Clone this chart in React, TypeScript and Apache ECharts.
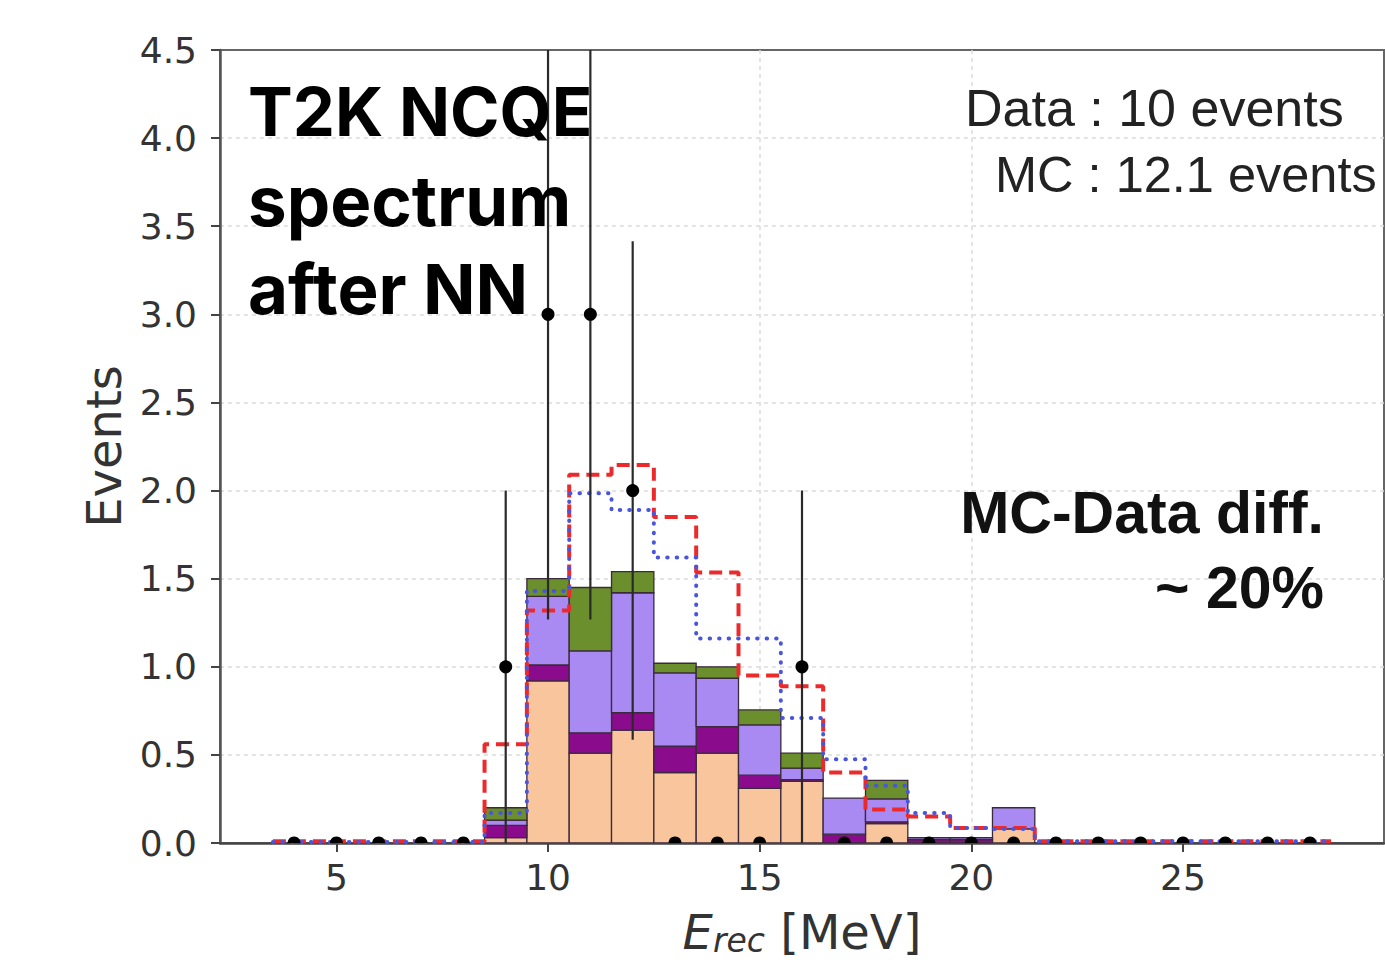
import React, { useEffect, useRef } from "react";
import * as echarts from "echarts";

// Bin centres (MeV), 1 MeV wide bins
const binCenters = [4, 5, 6, 7, 8, 9, 10, 11, 12, 13, 14, 15, 16, 17, 18, 19, 20, 21, 22, 23, 24, 25, 26, 27, 28];

// Stacked MC components (bottom -> top)
const layerPeach = [0, 0, 0, 0, 0, 0.03, 0.92, 0.51, 0.64, 0.4, 0.51, 0.31, 0.35, 0, 0.11, 0, 0, 0.08, 0, 0, 0, 0, 0, 0, 0];
const layerPurple = [0, 0, 0, 0, 0, 0.07, 0.09, 0.115, 0.1, 0.15, 0.15, 0.075, 0.01, 0.05, 0.01, 0.02, 0.02, 0, 0, 0, 0, 0, 0, 0, 0];
const layerLavender = [0, 0, 0, 0, 0, 0.03, 0.39, 0.465, 0.68, 0.415, 0.275, 0.285, 0.065, 0.205, 0.13, 0.01, 0.01, 0.12, 0, 0, 0, 0, 0, 0, 0];
const layerGreen = [0, 0, 0, 0, 0, 0.07, 0.1, 0.36, 0.12, 0.055, 0.065, 0.085, 0.085, 0, 0.105, 0, 0, 0, 0, 0, 0, 0, 0, 0, 0];

// Step-line predictions
const redDashed = [0.01, 0.01, 0.01, 0.01, 0.01, 0.56, 1.32, 2.09, 2.145, 1.85, 1.535, 0.95, 0.89, 0.4, 0.19, 0.15, 0.085, 0.085, 0.01, 0.01, 0.01, 0.01, 0.01, 0.01, 0.01];
const blueDotted = [0.005, 0.005, 0.005, 0.005, 0.005, 0.17, 1.43, 1.985, 1.89, 1.62, 1.16, 1.16, 0.71, 0.475, 0.325, 0.17, 0.085, 0.08, 0.01, 0.01, 0.01, 0.01, 0.01, 0.01, 0.01];

// Observed data
const dataCounts = [0, 0, 0, 0, 0, 1, 3, 3, 2, 0, 0, 0, 1, 0, 0, 0, 0, 0, 0, 0, 0, 0, 0, 0, 0];

const xTicks = [5, 10, 15, 20, 25];
const yTickLabels = ["0.0", "0.5", "1.0", "1.5", "2.0", "2.5", "3.0", "3.5", "4.0", "4.5"];

const layerColors = ["#f8c59c", "#8a0c8c", "#a98af2", "#6a8f2c"];

export default function App() {
  const ref = useRef<HTMLDivElement>(null);

  useEffect(() => {
    if (!ref.current) return;
    const chart = echarts.init(ref.current, undefined, { renderer: "svg" });

    const layers = [layerPeach, layerPurple, layerLavender, layerGreen];
    const cum = binCenters.map(() => 0);
    const stackSeries = layers.map((layer, li) => {
      const d = binCenters.map((c, i) => {
        const b = cum[i];
        const t = b + layer[i];
        cum[i] = t;
        return [c, b, t];
      });
      return {
        type: "custom",
        name: "mc" + li,
        z: 2,
        clip: true,
        encode: { x: 0, y: [1, 2] },
        data: d,
        renderItem: (params: any, api: any) => {
          const c = api.value(0);
          const b = api.value(1);
          const t = api.value(2);
          if (t - b <= 0) return null;
          const p1 = api.coord([c - 0.5, t]);
          const p2 = api.coord([c + 0.5, b]);
          return {
            type: "rect",
            shape: { x: p1[0], y: p1[1], width: p2[0] - p1[0], height: p2[1] - p1[1] },
            style: { fill: layerColors[li], stroke: "#3b2a3b", lineWidth: 1.3 },
          };
        },
      };
    });

    const stepPoints = (vals: number[]) => {
      const pts: number[][] = [];
      binCenters.forEach((c, i) => {
        pts.push([c - 0.5, vals[i]]);
        pts.push([c + 0.5, vals[i]]);
      });
      return pts;
    };

    const gridSplit = { color: "#dcdcdc", type: [4, 4], width: 1.5 };

    const option: any = {
      animation: false,
      backgroundColor: "#ffffff",
      grid: {
        left: 220,
        right: 1,
        top: 50,
        bottom: 117,
        show: true,
        borderColor: "#666",
        borderWidth: 2,
        backgroundColor: "transparent",
        outerBoundsMode: "none",
      },
      xAxis: {
        type: "value",
        min: 2.25,
        max: 29.75,
        name: "{e|E}{s|rec}{n| [MeV]}",
        nameLocation: "middle",
        nameGap: 64,
        nameTextStyle: {
          rich: {
            e: { fontFamily: "DejaVu Sans", fontStyle: "italic", fontSize: 48, color: "#333", lineHeight: 50, verticalAlign: "middle" },
            s: { fontFamily: "DejaVu Sans", fontStyle: "italic", fontSize: 33, color: "#333", lineHeight: 50, verticalAlign: "bottom" },
            n: { fontFamily: "DejaVu Sans", fontSize: 48, color: "#333", lineHeight: 50, verticalAlign: "middle" },
          },
        },
        axisLine: { onZero: false, lineStyle: { color: "#444", width: 2.5 } },
        axisTick: { show: true, length: 9, customValues: xTicks, lineStyle: { color: "#444", width: 2 } },
        axisLabel: {
          customValues: xTicks,
          fontFamily: "DejaVu Sans",
          fontSize: 36,
          color: "#333",
          margin: 16,
        },
        splitLine: { show: true, showMinLine: false, showMaxLine: false, lineStyle: gridSplit },
      },
      yAxis: {
        type: "value",
        min: 0,
        max: 4.5,
        interval: 0.5,
        name: "Events",
        nameLocation: "middle",
        nameGap: 92,
        nameTextStyle: { fontFamily: "DejaVu Sans", fontSize: 48, color: "#333" },
        axisLine: { show: true, onZero: false, lineStyle: { color: "#555", width: 2.5 } },
        axisTick: { show: true, length: 9, lineStyle: { color: "#444", width: 2 } },
        axisLabel: {
          fontFamily: "DejaVu Sans",
          fontSize: 36,
          color: "#333",
          margin: 23,
          formatter: (v: number) => yTickLabels[Math.round(v / 0.5)] ?? v.toFixed(1),
        },
        splitLine: { show: true, showMinLine: false, showMaxLine: false, lineStyle: gridSplit },
      },
      series: [
        ...stackSeries,
        {
          type: "line",
          name: "red",
          z: 3,
          data: stepPoints(redDashed),
          showSymbol: false,
          symbol: "none",
          lineStyle: { color: "#ec2a2c", width: 4, type: [13, 7] },
        },
        {
          type: "line",
          name: "blue",
          z: 3,
          data: stepPoints(blueDotted),
          showSymbol: false,
          symbol: "none",
          lineStyle: { color: "#4a55dd", width: 4, type: [0.5, 9], cap: "round" },
        },
        {
          type: "custom",
          name: "Data",
          z: 5,
          clip: true,
          encode: { x: 0, y: 1 },
          data: binCenters.map((c, i) => [c, dataCounts[i], Math.sqrt(dataCounts[i])]),
          renderItem: (params: any, api: any) => {
            const c = api.value(0);
            const v = api.value(1);
            const e = api.value(2);
            const p = api.coord([c, v]);
            const children: any[] = [];
            if (e > 0) {
              const lo = api.coord([c, v - e]);
              const hi = api.coord([c, v + e]);
              children.push({
                type: "line",
                shape: { x1: lo[0], y1: lo[1], x2: hi[0], y2: hi[1] },
                style: { stroke: "#2a2a2a", lineWidth: 2.2 },
              });
            }
            children.push({
              type: "circle",
              shape: { cx: p[0], cy: p[1], r: 6.5 },
              style: { fill: "#000" },
            });
            return { type: "group", children };
          },
        },
      ],
      graphic: [
        { type: "text", x: 248, y: 111, z: 20, style: { text: "T2K NCQE", fontFamily: "Inter", fontWeight: 700, fontSize: 67, fill: "#000", align: "left", verticalAlign: "middle" } },
        { type: "text", x: 248, y: 201, z: 20, style: { text: "spectrum", fontFamily: "Inter", fontWeight: 700, fontSize: 69, fill: "#000", align: "left", verticalAlign: "middle" } },
        { type: "text", x: 248, y: 289, z: 20, style: { text: "after NN", fontFamily: "Inter", fontWeight: 700, fontSize: 69, fill: "#000", align: "left", verticalAlign: "middle" } },
        { type: "text", x: 965, y: 108, z: 20, style: { text: "Data : 10 events", fontFamily: "Liberation Sans", fontSize: 52, fill: "#222", align: "left", verticalAlign: "middle" } },
        { type: "text", x: 995, y: 174, z: 20, style: { text: "MC : 12.1 events", fontFamily: "Liberation Sans", fontSize: 50.5, fill: "#222", align: "left", verticalAlign: "middle" } },
        { type: "text", x: 1324, y: 513, z: 20, style: { text: "MC-Data diff.", fontFamily: "Liberation Sans", fontWeight: 700, fontSize: 59, fill: "#111", align: "right", verticalAlign: "middle" } },
        { type: "text", x: 1324, y: 588, z: 20, style: { text: "~ 20%", fontFamily: "Liberation Sans", fontWeight: 700, fontSize: 59, fill: "#111", align: "right", verticalAlign: "middle" } },
      ],
    };

    chart.setOption(option);
    return () => chart.dispose();
  }, []);

  return (
    <div
      ref={ref}
      style={{ position: "absolute", left: 0, top: 0, width: 1385, height: 960, background: "#fff" }}
    />
  );
}
